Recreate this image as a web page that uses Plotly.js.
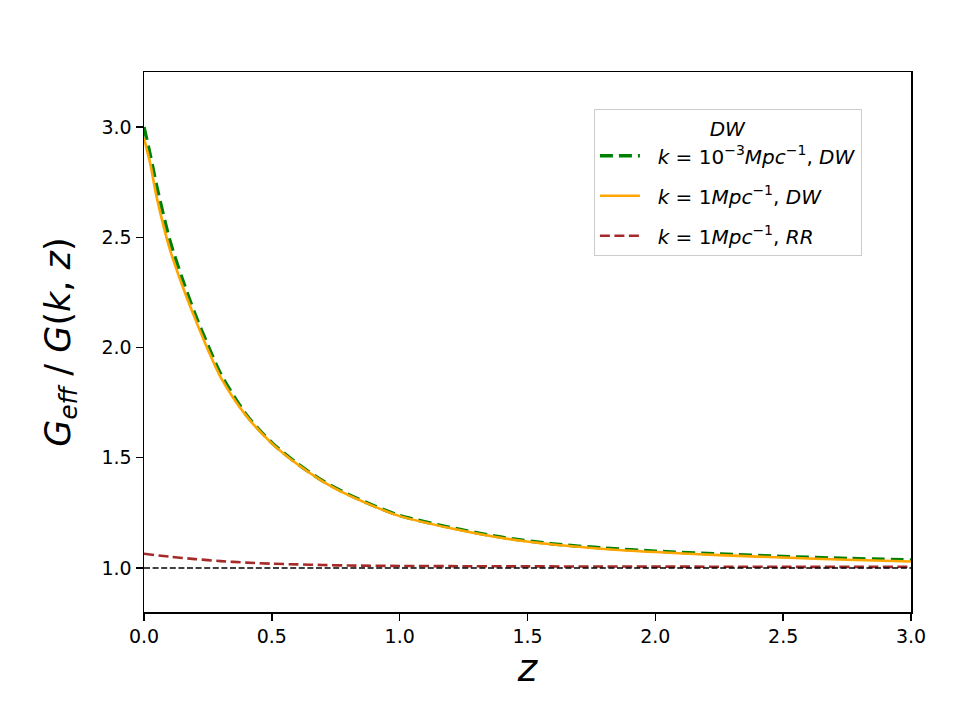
<!DOCTYPE html>
<html>
<head>
<meta charset="utf-8">
<script src="https://cdn.plot.ly/plotly-3.0.1.min.js"></script>
<style>
  html, body { margin: 0; padding: 0; background: #fff; }
  #chart { width: 960px; height: 720px; }
</style>
</head>
<body>
<div id="chart"></div>
<script>
// Redshift grid for the effective gravitational coupling curves
const zDW = [0, 0.025, 0.05, 0.1, 0.15, 0.2, 0.25, 0.3, 0.4, 0.5, 0.6, 0.7, 0.8, 0.9, 1.0,
             1.2, 1.4, 1.6, 1.8, 2.0, 2.25, 2.5, 2.75, 3.0];

// G_eff / G for k = 1e-3 Mpc^-1 (DW model)
const geffLowK = [3.00, 2.87, 2.73, 2.49, 2.31, 2.15, 2.01, 1.88, 1.695, 1.568, 1.473, 1.394, 1.333, 1.282, 1.238,
                  1.183, 1.139, 1.109, 1.090, 1.076, 1.063, 1.052, 1.043, 1.036];

// G_eff / G for k = 1 Mpc^-1 (DW model)
const geffHighK = [2.95, 2.83, 2.68, 2.45, 2.28, 2.13, 1.99, 1.865, 1.69, 1.565, 1.470, 1.392, 1.330, 1.279, 1.235,
                   1.180, 1.136, 1.106, 1.086, 1.072, 1.058, 1.047, 1.037, 1.029];

// G_eff / G for k = 1 Mpc^-1 (RR model)
const zRR = [0, 0.1, 0.2, 0.3, 0.4, 0.5, 0.6, 0.7, 0.8, 1.0, 1.2, 1.5, 2.0, 2.5, 3.0];
const geffRR = [1.064, 1.051, 1.040, 1.031, 1.024, 1.019, 1.016, 1.013, 1.011, 1.009, 1.008, 1.007, 1.006, 1.005, 1.005];

// GR reference level
const zRef = [0, 3];
const geffGR = [1, 1];

const FONT = 'DejaVu Sans, sans-serif';
const legendFont = { family: FONT, size: 20, color: '#000' };
const pad = '\u00a0\u00a0';

const traces = [
  {
    x: zDW, y: geffLowK, mode: 'lines', type: 'scatter', legendgroup: 'a',
    name: pad + '<i>k</i> = 10<sup>\u22123</sup><i>Mpc</i><sup>\u22121</sup>, <i>DW</i>',
    line: { color: '#008000', width: 3.5, dash: '13px,6px', shape: 'spline', smoothing: 0.8 }
  },
  {
    x: zDW, y: geffHighK, mode: 'lines', type: 'scatter', legendgroup: 'b',
    name: pad + '<i>k</i> = 1<i>Mpc</i><sup>\u22121</sup>, <i>DW</i>',
    line: { color: '#FFA500', width: 2.6, shape: 'spline', smoothing: 0.8 }
  },
  {
    x: zRR, y: geffRR, mode: 'lines', type: 'scatter', legendgroup: 'c',
    name: pad + '<i>k</i> = 1<i>Mpc</i><sup>\u22121</sup>, <i>RR</i>',
    line: { color: '#A52A2A', width: 2.6, dash: '10px,4.5px', shape: 'spline', smoothing: 0.8 }
  },
  {
    x: zRef, y: geffGR, mode: 'lines', type: 'scatter',
    showlegend: false, hoverinfo: 'skip',
    line: { color: '#000000', width: 1.5, dash: '6px,2.6px' }
  }
];

const axisCommon = {
  showline: true, linecolor: '#000', linewidth: 1.5, mirror: true,
  ticks: 'outside', ticklen: 7, tickwidth: 1.5, tickcolor: '#000',
  showgrid: false, zeroline: false,
  tickfont: { family: FONT, size: 19, color: '#000' }
};

const layout = {
  width: 960, height: 720,
  paper_bgcolor: '#fff', plot_bgcolor: '#fff',
  margin: { l: 144, r: 49, t: 72, b: 108 },
  showlegend: true,
  xaxis: Object.assign({}, axisCommon, {
    range: [0, 3], tickvals: [0, 0.5, 1, 1.5, 2, 2.5, 3], tickformat: '.1f',
    title: { text: '<i>z</i>', font: { family: FONT, size: 37, color: '#000' }, standoff: 6 }
  }),
  yaxis: Object.assign({}, axisCommon, {
    range: [0.8, 3.25], tickvals: [1, 1.5, 2, 2.5, 3], tickformat: '.1f',
    title: {
      text: '<i>G</i><sub><i>eff</i></sub> / <i>G</i>(<i>k</i>, <i>z</i>)',
      font: { family: FONT, size: 35, color: '#000' }, standoff: 20
    }
  }),
  legend: {
    x: 0.936, xanchor: 'right', y: 0.931, yanchor: 'top',
    bgcolor: 'rgba(255,255,255,0.8)', bordercolor: '#cccccc', borderwidth: 1,
    font: legendFont,
    title: { text: '<i>DW</i>', side: 'top center', font: legendFont },
    tracegroupgap: 11, itemwidth: 40
  }
};

Plotly.newPlot('chart', traces, layout, { displayModeBar: false, staticPlot: true });
</script>
</body>
</html>
